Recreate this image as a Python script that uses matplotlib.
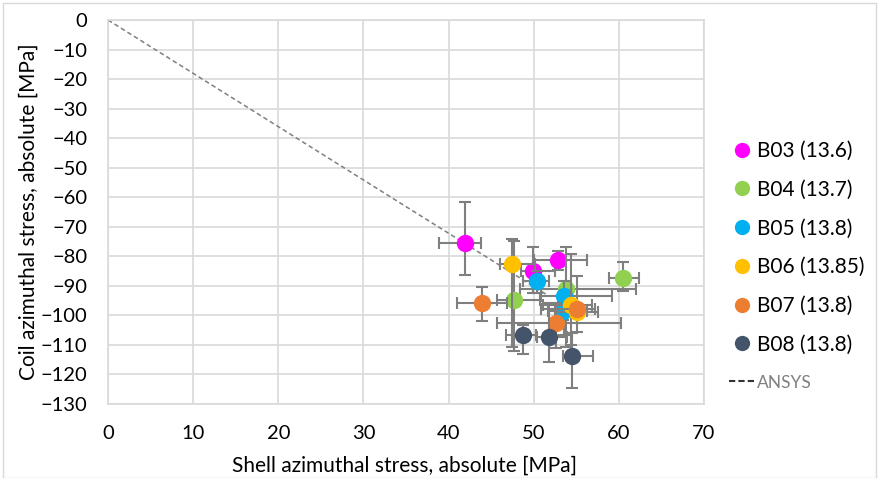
import matplotlib
matplotlib.use("Agg")
import matplotlib.pyplot as plt
from matplotlib.lines import Line2D
from matplotlib.patches import Rectangle

plt.rcParams['font.family'] = ['Lato', 'DejaVu Sans']

series_names = ["B03 (13.6)", "B04 (13.7)", "B05 (13.8)", "B06 (13.85)", "B07 (13.8)", "B08 (13.8)"]
colors = ["#FF00FF", "#92D050", "#00B0F0", "#FFC000", "#ED7D31", "#44546A"]

x_vals = [
    [41.9, 49.9, 52.9],
    [47.7, 53.8, 60.5],
    [50.4, 53.6, 53.4],
    [47.4, 54.4, 55.1],
    [43.9, 52.6, 55.1],
    [48.8, 51.8, 54.5],
]
y_vals = [
    [-75.5, -85.0, -81.4],
    [-94.9, -90.9, -87.2],
    [-88.4, -93.5, -98.6],
    [-82.5, -96.5, -98.8],
    [-95.7, -102.7, -98.0],
    [-106.7, -107.3, -113.7],
]
xerr_lo = [
    [3.0, 1.4, 2.9],
    [2.0, 5.4, 1.7],
    [1.7, 2.7, 1.7],
    [1.4, 3.3, 2.6],
    [2.9, 6.9, 4.2],
    [2.0, 1.4, 1.1],
]
xerr_hi = [
    [1.9, 2.6, 3.4],
    [3.0, 8.2, 1.9],
    [1.4, 5.6, 2.9],
    [2.7, 2.4, 2.4],
    [3.0, 7.6, 2.1],
    [1.5, 2.1, 2.5],
]
yerr_lo = [
    [10.8, 7.3, 3.2],
    [17.1, 19.7, 4.6],
    [3.9, 13.2, 3.0],
    [28.1, 13.5, 6.8],
    [6.1, 8.5, 2.0],
    [6.4, 8.4, 10.8],
]
yerr_hi = [
    [13.8, 8.3, 3.2],
    [20.2, 14.2, 5.2],
    [3.4, 5.0, 3.0],
    [8.3, 17.3, 12.1],
    [5.4, 6.8, 2.0],
    [3.6, 11.4, 7.6],
]

ansys_x = [0, 51.8]
ansys_y = [0, -93.5]

x_ticks = [0, 10, 20, 30, 40, 50, 60, 70]
y_ticks = [0, -10, -20, -30, -40, -50, -60, -70, -80, -90, -100, -110, -120, -130]

W, H = 879, 478
fig = plt.figure(figsize=(W / 100, H / 100), dpi=100)
fig.patches.append(Rectangle((3 / W, 0), (W - 6) / W, (H - 3) / H, transform=fig.transFigure,
                             fill=False, edgecolor="#d9d9d9", linewidth=1))

ax = fig.add_axes([108 / W, (H - 404) / H, (704 - 108) / W, (404 - 20) / H])
ax.set_xlim(0, 70)
ax.set_ylim(-130, 0)
ax.set_xticks(x_ticks)
ax.set_yticks(y_ticks)
ax.grid(True, color="#d9d9d9", linewidth=1.2)
ax.set_axisbelow(True)
for s in ax.spines.values():
    s.set_color("#d9d9d9")
    s.set_linewidth(1.2)
ax.tick_params(axis='y', length=0, labelsize=14.5, colors="#000000", pad=15)
ax.tick_params(axis='x', length=0, labelsize=14.5, colors="#000000", pad=15)

ax.plot(ansys_x, ansys_y, linestyle=(0, (3, 2)), color="#7f7f7f", linewidth=1.1, zorder=2)

for i in range(len(series_names)):
    ax.errorbar(x_vals[i], y_vals[i],
                xerr=[xerr_lo[i], xerr_hi[i]], yerr=[yerr_lo[i], yerr_hi[i]],
                fmt='none', ecolor="#7f7f7f", elinewidth=1.5, capsize=4, capthick=1.5,
                zorder=3 + 2 * i, clip_on=False)
    ax.plot(x_vals[i], y_vals[i], 'o', color=colors[i], markersize=12.5, markeredgewidth=0,
            zorder=4 + 2 * i, clip_on=False)

ax.set_xlabel("Shell azimuthal stress, absolute [MPa]", fontsize=15)
ax.set_ylabel("Coil azimuthal stress, absolute [MPa]", fontsize=15)
ax.xaxis.set_label_coords((405 - 108) / 596, (404 - 466) / 384)
ax.yaxis.set_label_coords((29 - 108) / 596, 0.5)
ax.xaxis.label.set_va('center')
ax.yaxis.label.set_va('center')

handles = [Line2D([], [], marker='o', linestyle='none', color=c, markersize=11, markeredgewidth=0)
           for c in colors]
handles.append(Line2D([], [], linestyle=(0, (3, 1.5)), color="#333333", linewidth=1.5))
labels = series_names + ["ANSYS"]
leg = fig.legend(handles, labels, loc='upper left', bbox_to_anchor=(729 / W, 1 - 141 / H),
                 frameon=False, fontsize=15, labelspacing=0.9, handlelength=1.25,
                 handletextpad=0.1, borderaxespad=0, borderpad=0)
leg.get_texts()[-1].set_color("#808080")
leg.get_texts()[-1].set_fontsize(12.5)

fig.savefig("out.png", dpi=100)
